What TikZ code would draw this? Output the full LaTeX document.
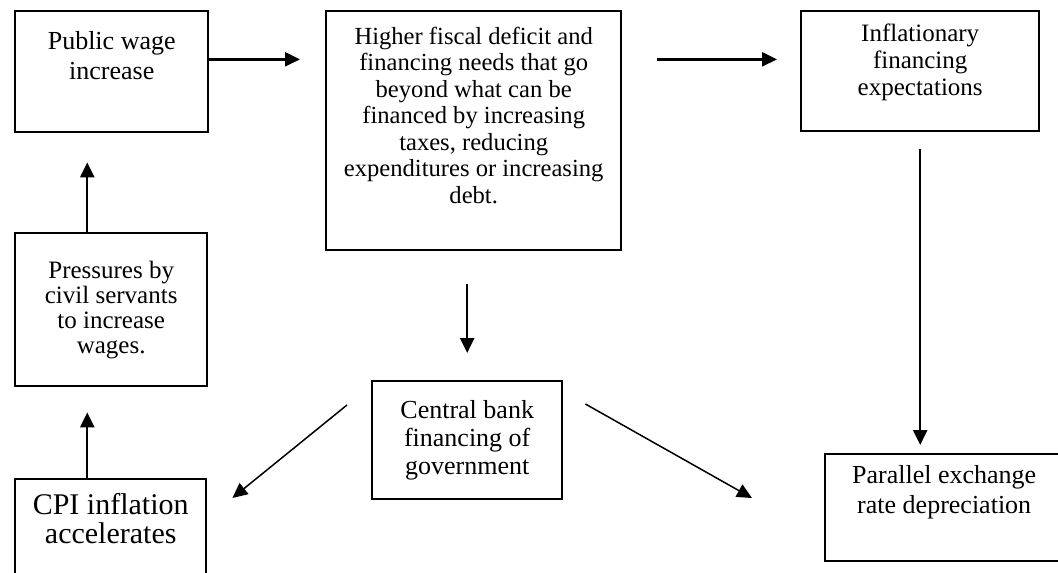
\documentclass[tikz,border=0pt]{standalone}
\usepackage{fontspec}
\setmainfont{Liberation Serif}
\usepackage{tikz}
\usetikzlibrary{positioning}
\usetikzlibrary{calc}
\usetikzlibrary{arrows.meta}
\tikzset{
  flow box/.style={draw, line width=1.2pt, inner sep=0pt, anchor=north west},
  flow arrow/.style={line width=1.2pt, -{Triangle[length=7.5pt,width=7pt]}},
  thin arrow/.style={flow arrow, line width=0.75pt}
}
% width, height, first baseline, text
\newcommand{\boxtext}[4]{\parbox[t][#2][t]{#1}{\centering\rule{0pt}{#3}#4}}

\begin{document}
\begin{tikzpicture}[x=0.5pt, y=-0.5pt]
    \useasboundingbox (0,0) rectangle (1058,572);

    % boxes
    \node[flow box, font=\fontsize{13}{15}\selectfont] (wage) at (14,10)
        {\boxtext{96.5pt}{60.5pt}{19pt}{Public wage\\increase}};
    \node[flow box, font=\fontsize{12.3}{13.25}\selectfont] (deficit) at (325,10)
        {\boxtext{147.5pt}{119.5pt}{16.5pt}{Higher fiscal deficit and\\financing needs that go\\beyond what can be\\financed by increasing\\taxes, reducing\\expenditures or increasing\\debt.}};
    \node[flow box, font=\fontsize{12.5}{13.5}\selectfont] (expect) at (800,10)
        {\boxtext{119pt}{60pt}{15pt}{Inflationary\\financing\\expectations}};
    \node[flow box, font=\fontsize{12.5}{12.5}\selectfont] (press) at (14,232)
        {\boxtext{96pt}{76.5pt}{22.5pt}{Pressures by\\civil servants\\to increase\\wages.}};
    \node[flow box, font=\fontsize{15}{14.5}\selectfont] (cpi) at (14,478)
        {\boxtext{95.5pt}{51pt}{17.5pt}{CPI inflation\\accelerates}};
    \node[flow box, font=\fontsize{13}{14}\selectfont] (bank) at (371,380)
        {\boxtext{95pt}{59pt}{18.5pt}{Central bank\\financing of\\government}};
    \node[flow box, font=\fontsize{13}{15}\selectfont] (rate) at (824,453)
        {\boxtext{119pt}{53.5pt}{14.5pt}{Parallel exchange\\rate depreciation}};

    % arrows
    \coordinate (row) at ($(wage.north east)!.4!(wage.south east)$);
    \coordinate (lx) at ($(wage.south west)!.375!(wage.south east)$);
    \draw[flow arrow, shorten >=12.5pt] (row) -- (row -| deficit.west);
    \draw[flow arrow, shorten <=17.5pt, shorten >=11.5pt] (row -| deficit.east) -- (row -| expect.west);
    \draw[flow arrow, shorten <=8.5pt, shorten >=4pt] (expect.south) -- (expect.south |- rate.north);
    \draw[flow arrow, shorten <=16.5pt, shorten >=13.5pt] (bank.north |- deficit.south) -- (bank.north);
    \draw[flow arrow, shorten >=14.5pt] (lx |- press.north) -- (lx);
    \draw[flow arrow, shorten >=12.5pt] (lx |- cpi.north) -- (lx |- press.south);

    \coordinate (bank left) at ([shift={(-24,25)}]bank.north west);
    \coordinate (cpi end) at ([shift={(25,20)}]cpi.north east);
    \coordinate (bank right) at ([shift={(22,24)}]bank.north east);
    \coordinate (rate end) at ([shift={(-72,45)}]rate.north west);
    \draw[thin arrow] (bank left) -- (cpi end);
    \draw[thin arrow] (bank right) -- (rate end);
\end{tikzpicture}
\end{document}
